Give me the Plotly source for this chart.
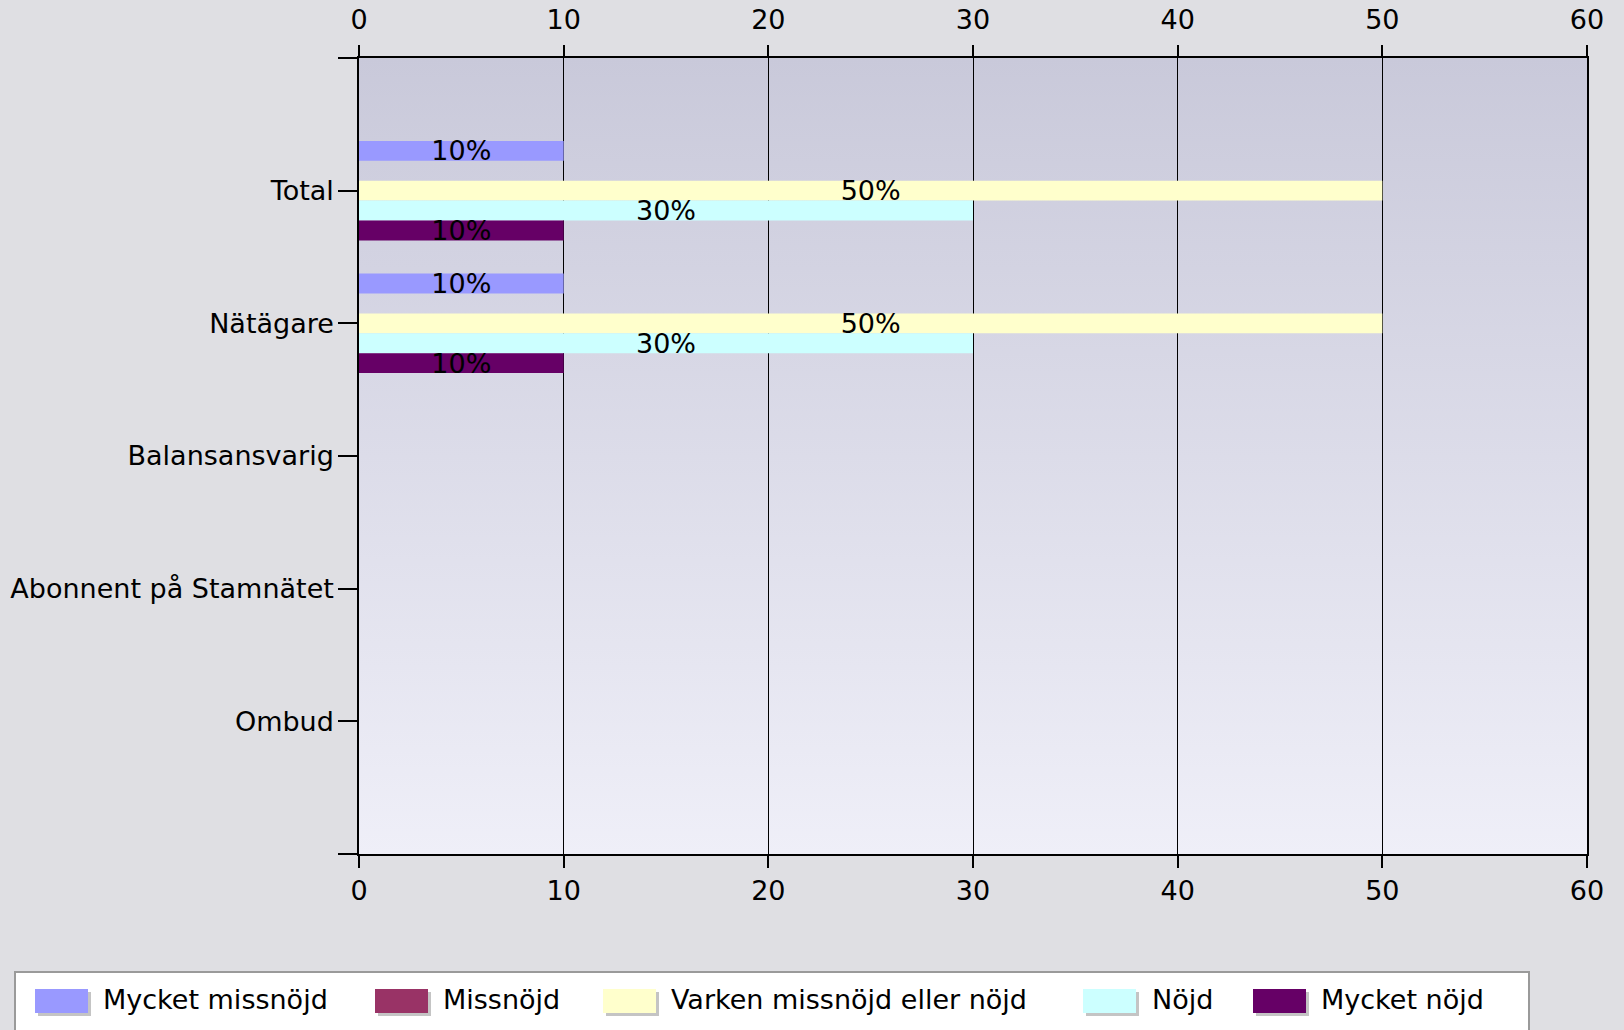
import base64
import plotly.graph_objects as go

# ---- data ----
categories = ["Total", "Nätägare", "Balansansvarig", "Abonnent på Stamnätet", "Ombud"]
series_names = ["Mycket missnöjd", "Missnöjd", "Varken missnöjd eller nöjd", "Nöjd", "Mycket nöjd"]
mycket_missnojd = [10, 10, 0, 0, 0]
missnojd = [0, 0, 0, 0, 0]
varken = [50, 50, 0, 0, 0]
nojd = [30, 30, 0, 0, 0]
mycket_nojd = [10, 10, 0, 0, 0]
series_values = [mycket_missnojd, missnojd, varken, nojd, mycket_nojd]
series_colors = ["#9999FF", "#993366", "#FFFFCC", "#CCFFFF", "#660066"]
x_ticks = [0, 10, 20, 30, 40, 50, 60]

FONT = "DejaVu Sans"
FS = 27
W, H = 1624, 1030
ML, MR, MT, MB = 359, 37, 58, 176
PW, PH = W - ML - MR, H - MT - MB


def px2x(px):
    return (px - ML) / PW


def px2y(py):
    return (H - MB - py) / PH


ypos = list(range(len(categories)))

fig = go.Figure()
for name, vals, col in zip(series_names, series_values, series_colors):
    fig.add_trace(go.Bar(
        name=name, orientation="h", x=vals, y=ypos,
        marker=dict(color=col, line=dict(width=0)),
        text=[f"{v}%" if v else "" for v in vals],
        textposition="inside", insidetextanchor="middle",
        textfont=dict(family=FONT, size=FS, color="black"),
        showlegend=False, cliponaxis=False,
    ))

# gradient background for plot area
svg = (
    '<svg xmlns="http://www.w3.org/2000/svg" width="100" height="100" preserveAspectRatio="none">'
    '<defs><linearGradient id="g" x1="0" y1="0" x2="0" y2="1">'
    '<stop offset="0" stop-color="#C9C9DA"/><stop offset="1" stop-color="#EFEFF8"/>'
    '</linearGradient></defs><rect width="100" height="100" fill="url(#g)"/></svg>'
)
src = "data:image/svg+xml;base64," + base64.b64encode(svg.encode()).decode()

shapes = []
annotations = []
# manual legend
shapes.append(dict(type="rect", xref="paper", yref="paper",
                   x0=px2x(15), x1=px2x(1529), y0=px2y(1045), y1=px2y(972),
                   fillcolor="white", line=dict(color="#9A9A9A", width=2), layer="above"))
leg_sw_x = [35, 375, 603, 1083, 1253]
leg_tx_x = [101, 441, 669, 1150, 1319]
for name, col, sx, tx in zip(series_names, series_colors, leg_sw_x, leg_tx_x):
    shapes.append(dict(type="rect", xref="paper", yref="paper",
                       x0=px2x(sx + 3), x1=px2x(sx + 56), y0=px2y(1016), y1=px2y(992),
                       fillcolor="#C4C4C4", line=dict(width=0), layer="above"))
    shapes.append(dict(type="rect", xref="paper", yref="paper",
                       x0=px2x(sx), x1=px2x(sx + 53), y0=px2y(1013), y1=px2y(989),
                       fillcolor=col, line=dict(width=0), layer="above"))
    annotations.append(dict(xref="paper", yref="paper", x=px2x(tx), y=px2y(999),
                            text=name, showarrow=False, xanchor="left", yanchor="middle",
                            font=dict(family=FONT, size=FS, color="black")))

axis_common = dict(
    range=[0, 60], tickvals=x_ticks, ticks="outside", ticklen=12, tickwidth=1.5,
    tickcolor="black", tickfont=dict(family=FONT, size=FS, color="black"),
    automargin=False,
)

fig.update_layout(
    width=W, height=H,
    margin=dict(l=ML, r=MR, t=MT, b=MB, pad=0, autoexpand=False),
    paper_bgcolor="#DFDFE3", plot_bgcolor="rgba(0,0,0,0)",
    barmode="group", bargap=0.25, bargroupgap=0,
    uniformtext=dict(minsize=FS, mode="show"),
    showlegend=False,
    xaxis=dict(**axis_common, showline=True, linecolor="black", linewidth=1.5, mirror=True,
               showgrid=True, gridcolor="black", gridwidth=1, zeroline=False),
    xaxis2=dict(**axis_common, overlaying="x", side="top", matches="x", anchor="y",
                showline=False, showgrid=False, zeroline=False, ticklabelstandoff=5),
    yaxis=dict(range=[len(categories), -1],
               tickvals=[-1] + ypos + [len(categories)],
               ticktext=[""] + categories + [""],
               ticks="outside", ticklen=19, tickwidth=1.5, tickcolor="black",
               tickfont=dict(family=FONT, size=FS, color="black"),
               showline=True, linecolor="black", linewidth=1.5, mirror=True,
               showgrid=False, zeroline=False, automargin=False, ticklabelstandoff=-1),
    images=[dict(source=src, xref="paper", yref="paper", x=0, y=1, sizex=1, sizey=1,
                 xanchor="left", yanchor="top", sizing="stretch", layer="below")],
    shapes=shapes, annotations=annotations,
)
fig.add_trace(go.Scatter(x=[], y=[], xaxis="x2", yaxis="y", showlegend=False, hoverinfo="skip"))

fig.write_html("out.html")
